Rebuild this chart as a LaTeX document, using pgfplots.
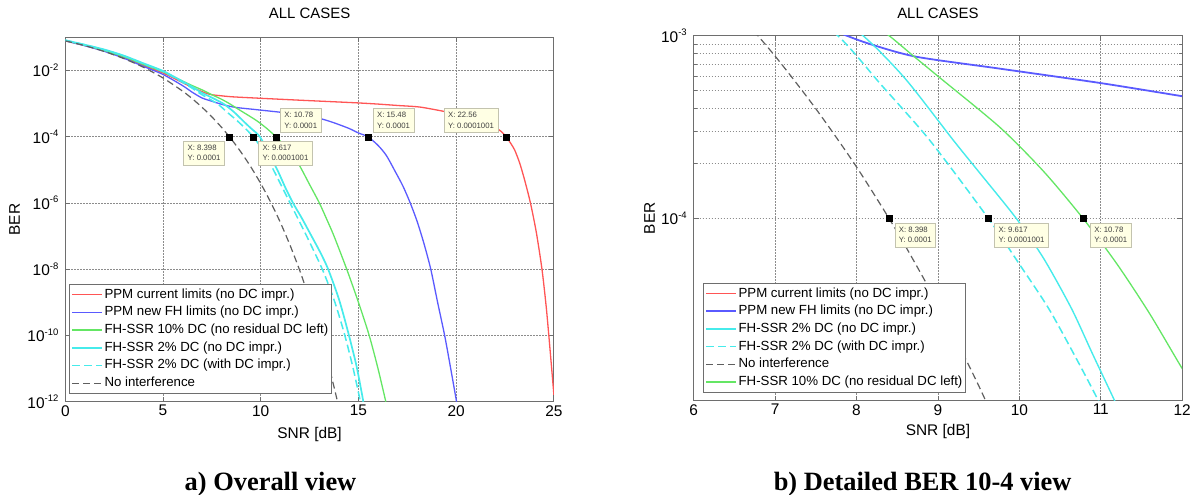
\documentclass[border=0pt]{standalone}
\usepackage{pgfplots}
\pgfplotsset{compat=1.18}
\usepackage{fontspec}
\setmainfont{Liberation Sans}
\newfontfamily\capfont{Liberation Serif}
\definecolor{cR}{RGB}{255,85,85}
\definecolor{cB}{RGB}{90,90,255}
\definecolor{cG}{RGB}{100,230,100}
\definecolor{cC}{RGB}{70,235,235}
\definecolor{cK}{RGB}{95,95,95}
\definecolor{tipfill}{RGB}{255,255,228}
\definecolor{tipdraw}{RGB}{195,195,175}
\definecolor{axgray}{RGB}{110,110,110}
\definecolor{grd}{RGB}{140,140,140}
\newcommand{\tp}[1]{10\raisebox{6.5bp}{\fontsize{9.5}{9.5}\selectfont #1}}
\tikzset{tipbox/.style={fill=tipfill, draw=tipdraw, line width=0.6bp, inner sep=4bp, align=left, text=black!75, font=\fontsize{7.8}{10.5}\selectfont}}
\pgfplotsset{
  matstyle/.style={
    scale only axis,
    axis line style={axgray, line width=1.1bp},
    tick style={axgray, line width=0.9bp},
    major tick length=5bp, minor tick length=3bp,
    tick align=inside,
    major grid style={grd, line width=0.9bp, dash pattern=on 1.5bp off 1.5bp},
    minor grid style={grd, line width=0.9bp, dash pattern=on 1.5bp off 1.5bp},
    tick label style={font=\fontsize{15.5}{15.5}\selectfont},
    yticklabel style={xshift=-3.5bp},
    label style={font=\fontsize{15.5}{15.5}\selectfont},
    title style={font=\fontsize{15}{15}\selectfont, at={(axis description cs:0.5,1)}, anchor=center},
    /pgf/number format/assume math mode=true,
    legend cell align=left,
    legend image code/.code={\draw[##1] (0bp,0bp) -- (30bp,0bp);},
    legend style={font=\fontsize{13.3}{14}\selectfont, draw=axgray, line width=1.1bp, fill=white, inner xsep=2bp, inner ysep=1.5bp, row sep=0bp, anchor=south west, nodes={inner sep=1.25bp, text height=11bp, text depth=4.2bp}},
  },
  lR/.style={cR, line width=1.3bp, smooth, tension=0.45},
  lB/.style={cB, line width=1.3bp, smooth, tension=0.45},
  lG/.style={cG, line width=1.3bp, smooth, tension=0.45},
  lC/.style={cC, line width=1.7bp, smooth, tension=0.45},
  lCd/.style={cC, line width=1.5bp, dash pattern=on 8bp off 4bp, smooth, tension=0.45},
  lK/.style={cK, line width=1.2bp, dash pattern=on 7bp off 4bp, smooth, tension=0.45},
}
\begin{document}
\begin{tikzpicture}
\path[use as bounding box] (0,0) rectangle (1191bp,495bp);
% ---------------- left: overall view ----------------
\begin{semilogyaxis}[matstyle,
  at={(65.3bp,93.3bp)}, anchor=south west,
  width=488.6bp, height=364.3bp,
  xmin=0, xmax=25, ymin=1e-12, ymax=1e-1,
  xtick={0,5,10,15,20,25},
  ytick={1e-12,1e-10,1e-8,1e-6,1e-4,1e-2},
  yticklabels={\tp{-12},\tp{-10},\tp{-8},\tp{-6},\tp{-4},\tp{-2}},
  yminorticks=false,
  grid=major,
  title={ALL CASES}, title style={yshift=18.3bp},
  xlabel={SNR [dB]}, ylabel={BER},
  xlabel style={at={(axis description cs:0.5,-0.0887)}, anchor=center},
  ylabel style={at={(axis description cs:-0.104,0.5)}, anchor=center},
  legend style={at={(0.0076,0.021)}},
]
\addplot[lR] coordinates {(0,0.079)(1,0.057)(2,0.039)(3,0.025)(4,0.0142)(5,0.0084)(6,0.0043)(6.5,0.0031)(7,0.0023)(7.4,0.0019)(8,0.00172)(8.6,0.0016)(10,0.00145)(12,0.00127)(14,0.00112)(15,0.00105)(16,0.00097)(17,0.00088)(18.13,0.00079)(19.27,0.0006)(20,0.00049)(20.5,0.00042)(21.3,0.0003)(22,0.00019)(22.3,0.000145)(22.56,0.0001)(22.8,6.2e-5)(23,3.9e-5)(23.25,1.6e-5)(23.5,5e-6)(23.8,1e-6)(24.1,1.3e-7)(24.39,1e-8)(24.6,8e-10)(24.74,1e-10)(24.9,8e-12)(25,1.6e-12)};
\addlegendentry{PPM current limits (no DC impr.)}
\addplot[lB] coordinates {(0,0.079)(1,0.056)(2,0.038)(3,0.0235)(4,0.0133)(5,0.0076)(6,0.0035)(6.5,0.0022)(7,0.00148)(7.5,0.00118)(7.88,0.001)(8.2,0.00089)(8.74,0.000766)(9.76,0.00066)(11,0.00055)(12,0.000466)(13,0.00036)(13.7,0.00027)(14.5,0.00018)(15,0.00013)(15.48,0.0001)(16,5.5e-5)(16.43,2.7e-5)(16.9,8.5e-6)(17.28,3.2e-6)(17.65,1e-6)(18,2.8e-7)(18.35,6e-8)(18.7,1e-8)(19.05,1e-9)(19.41,1e-10)(19.72,1e-11)(20.02,1e-12)};
\addlegendentry{PPM new FH limits (no DC impr.)}
\addplot[lG] coordinates {(0,0.08)(1,0.058)(2,0.04)(3,0.026)(4,0.0152)(5,0.0091)(6,0.0048)(6.5,0.0035)(7,0.0026)(7.4,0.00198)(8,0.00135)(8.4,0.001)(8.69,0.00078)(9,0.0006)(9.76,0.000315)(10.3,0.00018)(10.78,0.0001)(11.2,5.6e-5)(11.6,3e-5)(12,1.3e-5)(12.5,3.6e-6)(13,1e-6)(13.4,3e-7)(13.75,1e-7)(14.4,1e-8)(15,1e-9)(15.55,1e-10)(16,1e-11)(16.4,1e-12)};
\addlegendentry{FH-SSR 10\% DC (no residual DC left)}
\addplot[lC] coordinates {(0,0.082)(1,0.06)(2,0.043)(3,0.028)(4,0.0165)(5,0.0097)(6,0.0047)(6.5,0.0032)(7,0.0021)(7.5,0.00152)(8.08,0.001)(8.6,0.00058)(9.19,0.000267)(9.5,0.00018)(9.96,0.0001)(10.4,3.2e-5)(10.85,1e-5)(11.25,3e-6)(11.65,1e-6)(12.1,3.5e-7)(12.6,1e-7)(13.05,3.2e-8)(13.45,1e-8)(14,1.25e-9)(14.45,1.4e-10)(14.9,1.2e-11)(15.25,1e-12)};
\addlegendentry{FH-SSR 2\% DC (no DC impr.)}
\addplot[lCd] coordinates {(0,0.082)(1,0.06)(2,0.042)(3,0.0275)(4,0.016)(5,0.0093)(6,0.0044)(6.5,0.0029)(7,0.00185)(7.77,0.001)(8.3,0.00054)(8.9,0.000267)(9.617,0.0001)(10.1,3.9e-5)(10.65,1e-5)(11.5,1e-6)(12.35,1e-7)(13.15,1e-8)(13.75,1.2e-9)(14.25,1.3e-10)(14.7,1.2e-11)(15.1,1e-12)};
\addlegendentry{FH-SSR 2\% DC (with DC impr.)}
\addplot[lK] coordinates {(0,0.0786)(1,0.0563)(2,0.0375)(3,0.0229)(4,0.0125)(5,5.95e-3)(6,2.39e-3)(6.5,1.40e-3)(7,7.73e-4)(7.5,3.98e-4)(8,1.91e-4)(8.5,8.4e-5)(9,3.36e-5)(9.5,1.21e-5)(10,3.87e-6)(10.5,1.08e-6)(11,2.61e-7)(11.5,5.3e-8)(12,9.0e-9)(12.5,1.23e-9)(13,1.34e-10)(13.5,1.1e-11)(13.93,1e-12)};
\addlegendentry{No interference}
\addplot[only marks, mark=square*, mark size=3bp, black, forget plot] coordinates {(8.398,1e-4)(9.617,1e-4)(10.78,1e-4)(15.48,1e-4)(22.56,1e-4)};
\node[tipbox, anchor=north east, xshift=-4.6bp, yshift=-4bp] at (axis cs:8.398,1e-4) {X: 8.398\\Y: 0.0001};
\node[tipbox, anchor=north west, xshift=5bp, yshift=-4bp] at (axis cs:9.617,1e-4) {X: 9.617\\Y: 0.0001001};
\node[tipbox, anchor=south west, xshift=4bp, yshift=4bp] at (axis cs:10.78,1e-4) {X: 10.78\\Y: 0.0001};
\node[tipbox, anchor=south west, xshift=5bp, yshift=4bp] at (axis cs:15.48,1e-4) {X: 15.48\\Y: 0.0001};
\node[tipbox, anchor=south east, xshift=-8bp, yshift=4bp] at (axis cs:22.56,1e-4) {X: 22.56\\Y: 0.0001001};
\end{semilogyaxis}
% ---------------- right: detailed view ----------------
\begin{semilogyaxis}[matstyle,
  at={(693.7bp,94.3bp)}, anchor=south west,
  width=488.5bp, height=365bp,
  xmin=6, xmax=12, ymin=1e-5, ymax=1e-3,
  xtick={6,7,8,9,10,11,12},
  ytick={1e-4,1e-3},
  yticklabels={\tp{-4},\tp{-3}},
  grid=both,
  title={ALL CASES}, title style={yshift=16bp},
  xlabel={SNR [dB]}, ylabel={BER},
  xlabel style={at={(axis description cs:0.5,-0.085)}, anchor=center},
  ylabel style={at={(axis description cs:-0.0905,0.5)}, anchor=center},
  legend style={at={(0.019,0.021)}},
]
\addplot[lR] coordinates {(6,0.0043)(7,0.0023)(8,0.00172)(10,0.00145)(12,0.00127)};
\addlegendentry{PPM current limits (no DC impr.)}
\addplot[lB, line width=1.8bp] coordinates {(6,0.0035)(6.5,0.0022)(7,0.00148)(7.5,0.00118)(7.88,0.001)(8.2,0.00089)(8.74,0.000766)(9.76,0.00066)(11,0.00055)(12,0.000466)};
\addlegendentry{PPM new FH limits (no DC impr.)}
\addplot[lC, line width=1.4bp] coordinates {(6,0.0047)(7,0.0021)(7.5,0.00152)(8.08,0.001)(8.6,0.00058)(9.19,0.000267)(9.5,0.00018)(9.96,0.0001)(10.3,6e-5)(10.64,3.2e-5)(10.9,1.8e-5)(11.17,1e-5)(11.4,6e-6)};
\addlegendentry{FH-SSR 2\% DC (no DC impr.)}
\addplot[lCd] coordinates {(6,0.0044)(7,0.00185)(7.77,0.001)(8.3,0.00054)(8.9,0.000267)(9.617,0.0001)(10,5.6e-5)(10.36,3.2e-5)(10.7,1.7e-5)(10.97,1e-5)(11.2,6e-6)};
\addlegendentry{FH-SSR 2\% DC (with DC impr.)}
\addplot[lK] coordinates {(6,2.39e-3)(6.5,1.40e-3)(7,7.73e-4)(7.5,3.98e-4)(8,1.91e-4)(8.5,8.4e-5)(9,3.36e-5)(9.5,1.21e-5)(10,3.87e-6)};
\addlegendentry{No interference}
\addplot[lG] coordinates {(6,0.0048)(7,0.0026)(7.4,0.00198)(8,0.00135)(8.4,0.001)(8.69,0.00078)(9,0.0006)(9.76,0.000315)(10.3,0.00018)(10.78,0.0001)(11.2,5.6e-5)(11.6,3e-5)(12,1.5e-5)(12.2,1.1e-5)};
\addlegendentry{FH-SSR 10\% DC (no residual DC left)}
\addplot[only marks, mark=square*, mark size=3bp, black, forget plot] coordinates {(8.398,1e-4)(9.617,1e-4)(10.78,1e-4)};
\node[tipbox, anchor=north west, xshift=5.6bp, yshift=-4.4bp] at (axis cs:8.398,1e-4) {X: 8.398\\Y: 0.0001};
\node[tipbox, anchor=north west, xshift=6.2bp, yshift=-4.4bp] at (axis cs:9.617,1e-4) {X: 9.617\\Y: 0.0001001};
\node[tipbox, anchor=north west, xshift=7.2bp, yshift=-4.4bp] at (axis cs:10.78,1e-4) {X: 10.78\\Y: 0.0001};
\end{semilogyaxis}
% ---------------- captions ----------------
\node[anchor=base, font=\capfont\bfseries\fontsize{26.5}{27}\selectfont] at (270.5bp,5bp) {a) Overall view};
\node[anchor=base, font=\capfont\bfseries\fontsize{26.5}{27}\selectfont] at (922.6bp,5bp) {b) Detailed BER 10-4 view};
\end{tikzpicture}
\end{document}
